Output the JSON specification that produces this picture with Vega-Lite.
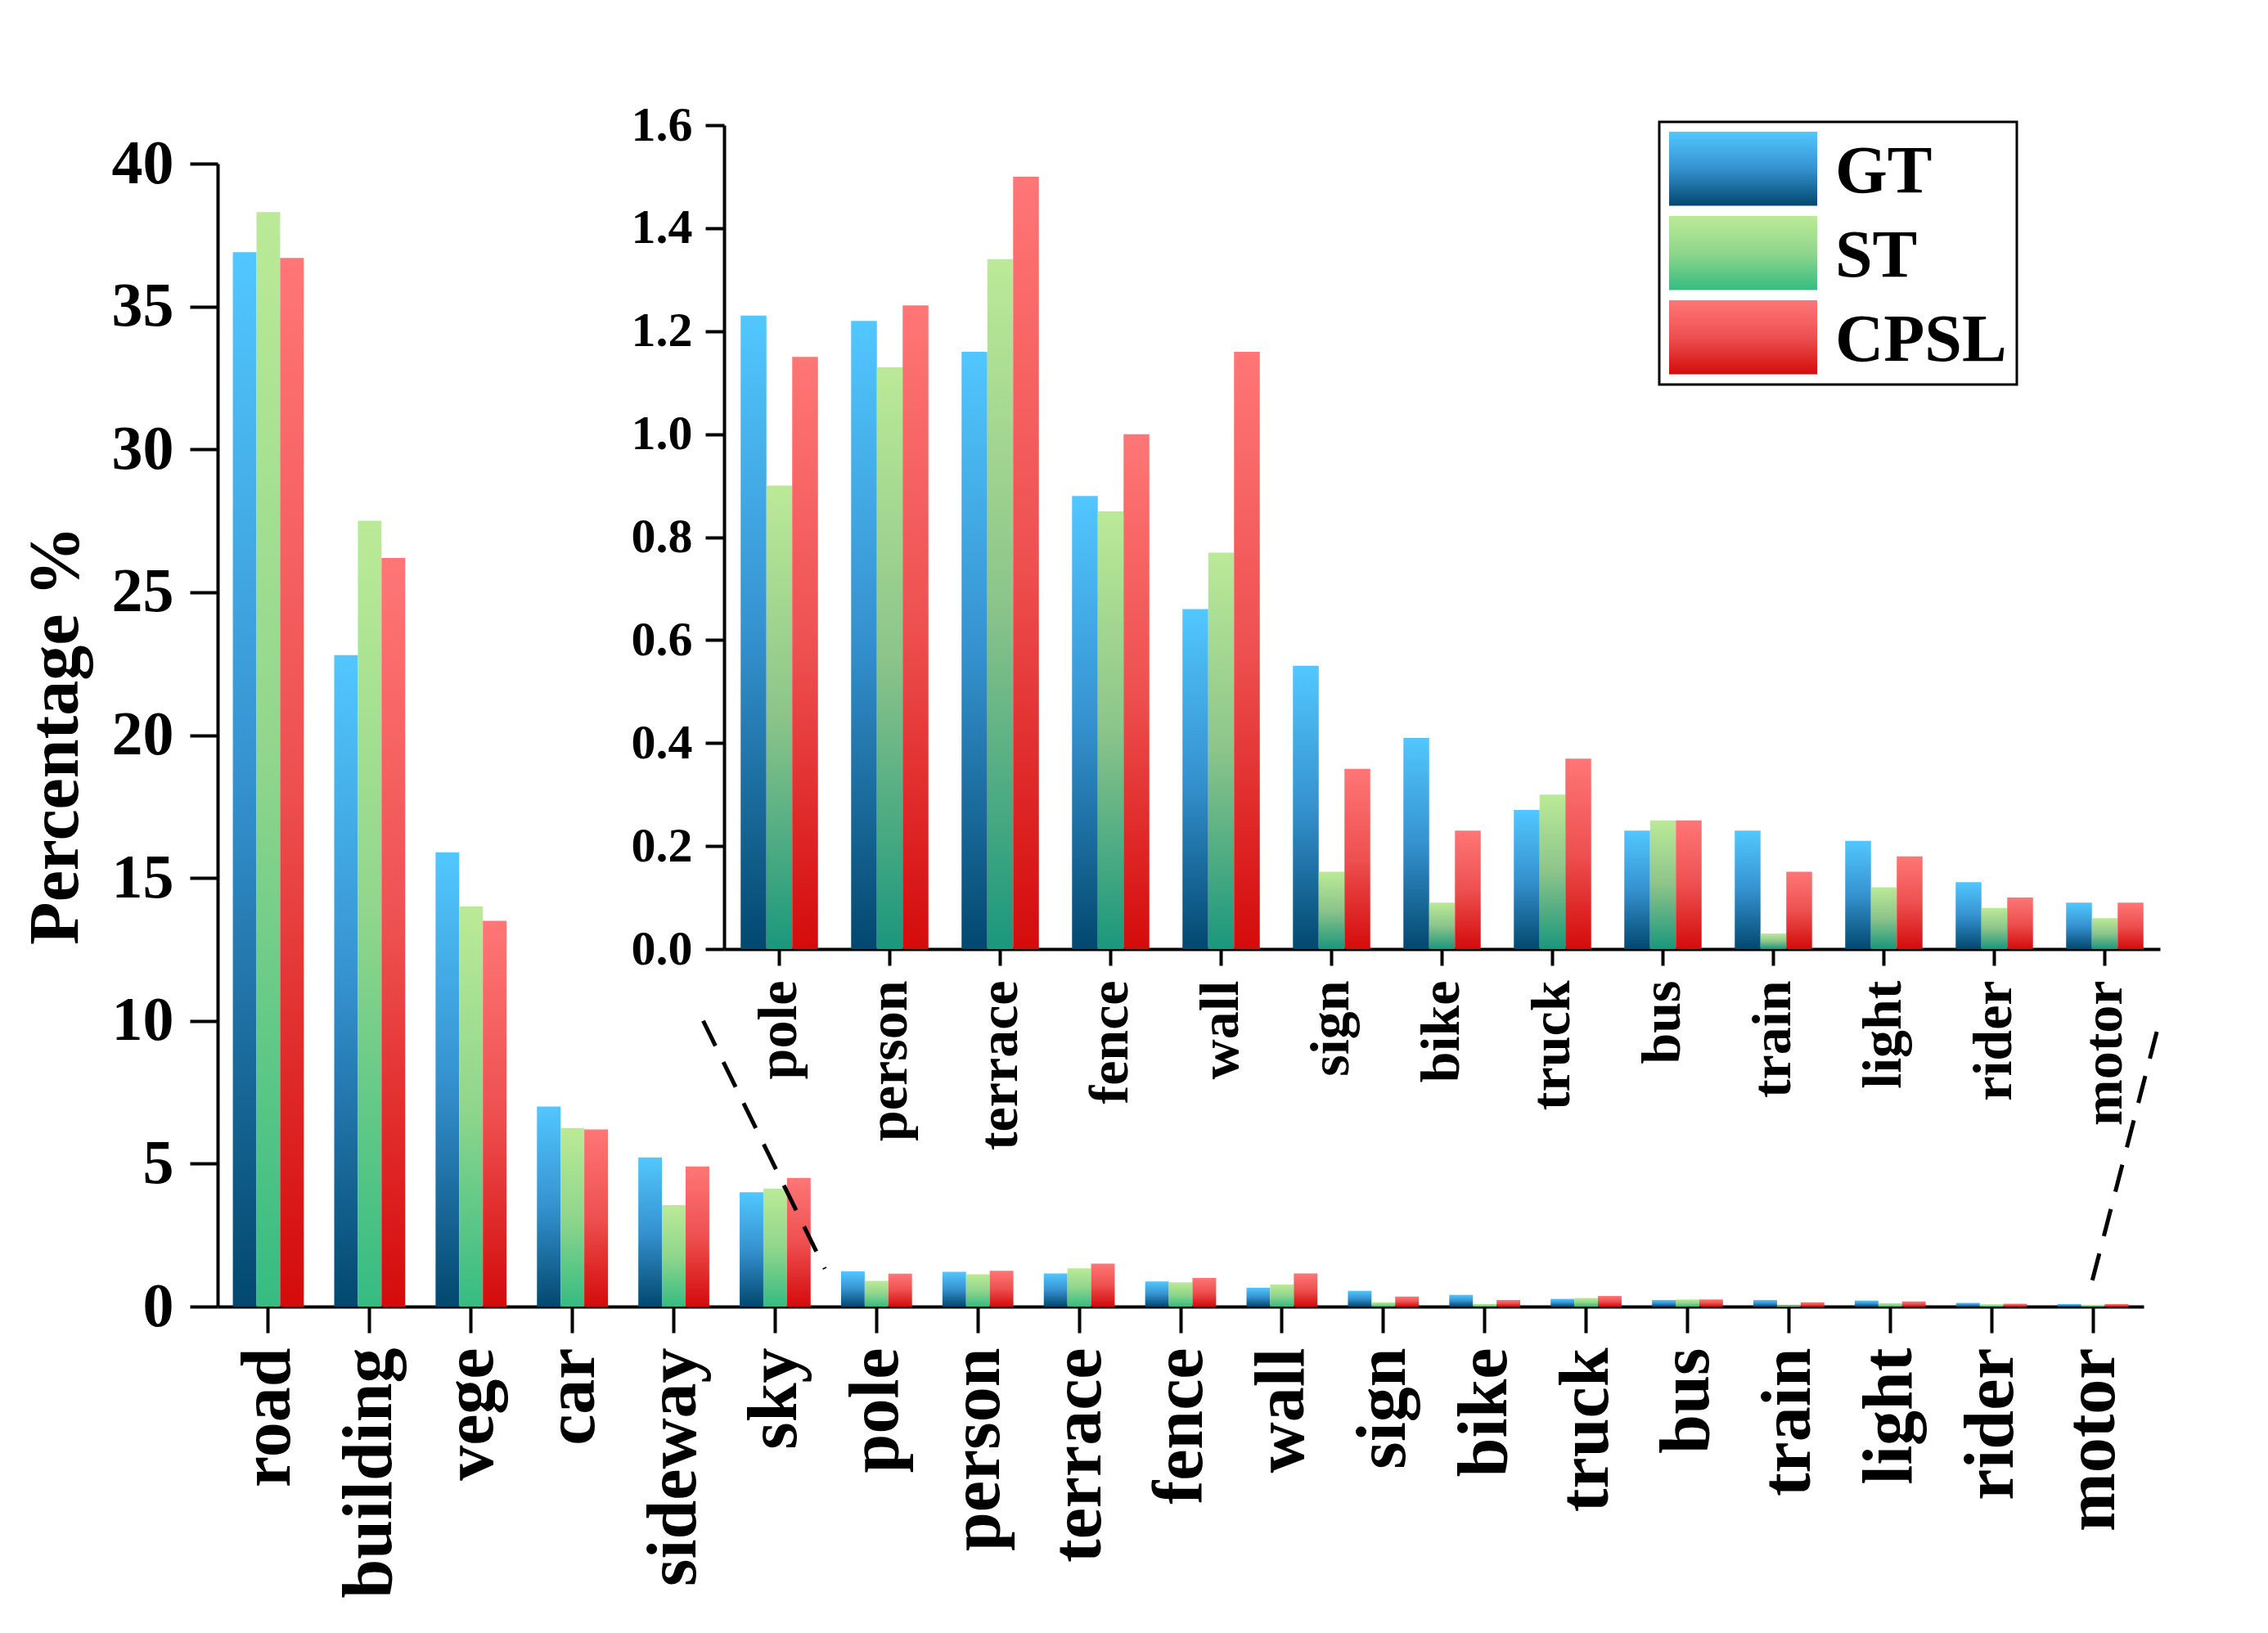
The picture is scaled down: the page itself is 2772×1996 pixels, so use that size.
{
  "$schema": "https://vega.github.io/schema/vega-lite/v6.json",
  "width": 2354,
  "height": 1397,
  "autosize": {"type": "none"},
  "padding": {"left": 266, "top": 200, "right": 152, "bottom": 399},
  "background": "white",
  "config": {
    "view": {"stroke": null},
    "font": "Liberation Serif",
    "axis": {
      "grid": false,
      "domainColor": "black",
      "tickColor": "black",
      "labelColor": "black",
      "titleColor": "black",
      "labelFont": "Liberation Serif",
      "titleFont": "Liberation Serif",
      "labelFontWeight": "bold",
      "titleFontWeight": "bold",
      "labelLimit": 0,
      "domainWidth": 4,
      "tickWidth": 4
    }
  },
  "datasets": {
    "shares": [
      {"cat": "road", "group": "major", "series": "GT", "v": 36.9},
      {"cat": "road", "group": "major", "series": "ST", "v": 38.3},
      {"cat": "road", "group": "major", "series": "CPSL", "v": 36.7},
      {"cat": "building", "group": "major", "series": "GT", "v": 22.8},
      {"cat": "building", "group": "major", "series": "ST", "v": 27.5},
      {"cat": "building", "group": "major", "series": "CPSL", "v": 26.2},
      {"cat": "vege", "group": "major", "series": "GT", "v": 15.9},
      {"cat": "vege", "group": "major", "series": "ST", "v": 14.0},
      {"cat": "vege", "group": "major", "series": "CPSL", "v": 13.5},
      {"cat": "car", "group": "major", "series": "GT", "v": 7.0},
      {"cat": "car", "group": "major", "series": "ST", "v": 6.25},
      {"cat": "car", "group": "major", "series": "CPSL", "v": 6.2},
      {"cat": "sideway", "group": "major", "series": "GT", "v": 5.22},
      {"cat": "sideway", "group": "major", "series": "ST", "v": 3.55},
      {"cat": "sideway", "group": "major", "series": "CPSL", "v": 4.9},
      {"cat": "sky", "group": "major", "series": "GT", "v": 4.0},
      {"cat": "sky", "group": "major", "series": "ST", "v": 4.13},
      {"cat": "sky", "group": "major", "series": "CPSL", "v": 4.5},
      {"cat": "pole", "group": "minor", "series": "GT", "v": 1.23},
      {"cat": "pole", "group": "minor", "series": "ST", "v": 0.9},
      {"cat": "pole", "group": "minor", "series": "CPSL", "v": 1.15},
      {"cat": "person", "group": "minor", "series": "GT", "v": 1.22},
      {"cat": "person", "group": "minor", "series": "ST", "v": 1.13},
      {"cat": "person", "group": "minor", "series": "CPSL", "v": 1.25},
      {"cat": "terrace", "group": "minor", "series": "GT", "v": 1.16},
      {"cat": "terrace", "group": "minor", "series": "ST", "v": 1.34},
      {"cat": "terrace", "group": "minor", "series": "CPSL", "v": 1.5},
      {"cat": "fence", "group": "minor", "series": "GT", "v": 0.88},
      {"cat": "fence", "group": "minor", "series": "ST", "v": 0.85},
      {"cat": "fence", "group": "minor", "series": "CPSL", "v": 1.0},
      {"cat": "wall", "group": "minor", "series": "GT", "v": 0.66},
      {"cat": "wall", "group": "minor", "series": "ST", "v": 0.77},
      {"cat": "wall", "group": "minor", "series": "CPSL", "v": 1.16},
      {"cat": "sign", "group": "minor", "series": "GT", "v": 0.55},
      {"cat": "sign", "group": "minor", "series": "ST", "v": 0.15},
      {"cat": "sign", "group": "minor", "series": "CPSL", "v": 0.35},
      {"cat": "bike", "group": "minor", "series": "GT", "v": 0.41},
      {"cat": "bike", "group": "minor", "series": "ST", "v": 0.09},
      {"cat": "bike", "group": "minor", "series": "CPSL", "v": 0.23},
      {"cat": "truck", "group": "minor", "series": "GT", "v": 0.27},
      {"cat": "truck", "group": "minor", "series": "ST", "v": 0.3},
      {"cat": "truck", "group": "minor", "series": "CPSL", "v": 0.37},
      {"cat": "bus", "group": "minor", "series": "GT", "v": 0.23},
      {"cat": "bus", "group": "minor", "series": "ST", "v": 0.25},
      {"cat": "bus", "group": "minor", "series": "CPSL", "v": 0.25},
      {"cat": "train", "group": "minor", "series": "GT", "v": 0.23},
      {"cat": "train", "group": "minor", "series": "ST", "v": 0.03},
      {"cat": "train", "group": "minor", "series": "CPSL", "v": 0.15},
      {"cat": "light", "group": "minor", "series": "GT", "v": 0.21},
      {"cat": "light", "group": "minor", "series": "ST", "v": 0.12},
      {"cat": "light", "group": "minor", "series": "CPSL", "v": 0.18},
      {"cat": "rider", "group": "minor", "series": "GT", "v": 0.13},
      {"cat": "rider", "group": "minor", "series": "ST", "v": 0.08},
      {"cat": "rider", "group": "minor", "series": "CPSL", "v": 0.1},
      {"cat": "motor", "group": "minor", "series": "GT", "v": 0.09},
      {"cat": "motor", "group": "minor", "series": "ST", "v": 0.06},
      {"cat": "motor", "group": "minor", "series": "CPSL", "v": 0.09}
    ],
    "zoomlines": [
      {"x": 4.79, "y": 10.0, "x2": 5.99, "y2": 1.32},
      {"x": 19.13, "y": 9.62, "x2": 18.49, "y2": 0.86}
    ]
  },
  "layer": [
    {
      "data": {"name": "shares"},
      "mark": {"type": "bar"},
      "encoding": {
        "x": {
          "field": "cat",
          "type": "nominal",
          "sort": ["road", "building", "vege", "car", "sideway", "sky", "pole", "person", "terrace", "fence", "wall", "sign", "bike", "truck", "bus", "train", "light", "rider", "motor"],
          "scale": {"paddingInner": 0.3, "paddingOuter": 0.15},
          "axis": {
            "title": null,
            "labelAngle": -90,
            "labelFontSize": 86,
            "labelPadding": 18,
            "tickSize": 32
          }
        },
        "xOffset": {"field": "series", "type": "nominal", "scale": {"domain": ["GT", "ST", "CPSL"]}},
        "y": {
          "field": "v",
          "type": "quantitative",
          "scale": {"domain": [0, 40], "nice": false},
          "axis": {
            "title": "Percentage %",
            "titleFontSize": 86,
            "titlePadding": 24,
            "values": [0, 5, 10, 15, 20, 25, 30, 35, 40],
            "labelFontSize": 76,
            "labelPadding": 20,
            "tickSize": 34
          }
        },
        "fill": {"value": {"expr": "(datum.series || datum.value) == 'GT' ? {gradient: 'linear', x1: 0, y1: 0, x2: 0, y2: 1, stops: [{offset: 0, color: '#52c7ff'}, {offset: 0.5, color: '#3592cf'}, {offset: 1, color: '#02486f'}]} : (datum.series || datum.value) == 'ST' ? {gradient: 'linear', x1: 0, y1: 0, x2: 0, y2: 1, stops: [{offset: 0, color: '#bbea97'}, {offset: 0.5, color: '#90d68c'}, {offset: 1, color: '#35bc82'}]} : {gradient: 'linear', x1: 0, y1: 0, x2: 0, y2: 1, stops: [{offset: 0, color: '#ff7676'}, {offset: 0.5, color: '#ee5050'}, {offset: 1, color: '#d40b0b'}]}"}},
        "opacity": {
          "field": "series",
          "type": "nominal",
          "scale": {"domain": ["GT", "ST", "CPSL"], "range": [1, 1, 1]},
          "legend": {
            "title": null,
            "orient": "none",
            "legendX": 1762,
            "legendY": -51,
            "symbolType": "M-1,-1H1V0H-1Z",
            "symbolSize": 32761,
            "symbolStrokeWidth": 0,
            "symbolOpacity": 1,
            "labelFont": "Liberation Serif",
            "labelFontWeight": "bold",
            "labelFontSize": 82,
            "labelBaseline": "bottom",
            "labelColor": "black",
            "labelLimit": 0,
            "labelOffset": 22,
            "rowPadding": 12,
            "padding": 12,
            "strokeColor": "black",
            "encoding": {
              "legend": {"strokeWidth": {"value": 3}}
            }
          }
        }
      }
    },
    {
      "data": {"name": "shares"},
      "transform": [{"filter": "datum.group == 'minor'"}],
      "mark": {"type": "bar"},
      "encoding": {
        "x": {
          "field": "cat",
          "type": "nominal",
          "sort": ["pole", "person", "terrace", "fence", "wall", "sign", "bike", "truck", "bus", "train", "light", "rider", "motor"],
          "scale": {"range": [619, 2374], "paddingInner": 0.3, "paddingOuter": 0.15},
          "axis": {
            "title": null,
            "orient": "bottom",
            "offset": -437,
            "labelAngle": -90,
            "labelFontSize": 68,
            "labelPadding": 18,
            "tickSize": 20
          }
        },
        "xOffset": {"field": "series", "type": "nominal", "scale": {"domain": ["GT", "ST", "CPSL"]}},
        "y": {
          "field": "v",
          "type": "quantitative",
          "scale": {"domain": [0, 1.6], "nice": false, "range": [960, -47]},
          "axis": {
            "title": null,
            "orient": "left",
            "offset": -619,
            "values": [0, 0.2, 0.4, 0.6, 0.8, 1.0, 1.2, 1.4, 1.6],
            "format": ".1f",
            "labelFontSize": 60,
            "labelPadding": 16,
            "tickSize": 23
          }
        },
        "fill": {"value": {"expr": "datum.series == 'GT' ? {gradient: 'linear', x1: 0, y1: 0, x2: 0, y2: 1, stops: [{offset: 0, color: '#52c7ff'}, {offset: 0.5, color: '#3592cf'}, {offset: 1, color: '#02486f'}]} : datum.series == 'ST' ? {gradient: 'linear', x1: 0, y1: 0, x2: 0, y2: 1, stops: [{offset: 0, color: '#bbea97'}, {offset: 0.5, color: '#8cc48a'}, {offset: 1, color: '#1a977c'}]} : {gradient: 'linear', x1: 0, y1: 0, x2: 0, y2: 1, stops: [{offset: 0, color: '#ff7676'}, {offset: 0.5, color: '#ee5050'}, {offset: 1, color: '#d40b0b'}]}"}}
      }
    },
    {
      "data": {"name": "zoomlines"},
      "mark": {"type": "rule", "color": "black", "strokeWidth": 5, "strokeDash": [34, 22]},
      "encoding": {
        "x": {"field": "x", "type": "quantitative", "scale": {"domain": [0, 19], "nice": false, "zero": false}, "axis": null},
        "x2": {"field": "x2"},
        "y": {"field": "y", "type": "quantitative", "scale": {"domain": [0, 40], "nice": false}, "axis": null},
        "y2": {"field": "y2"}
      }
    }
  ],
  "resolve": {
    "scale": {"x": "independent", "y": "independent", "xOffset": "independent"},
    "axis": {"x": "independent", "y": "independent"}
  }
}
